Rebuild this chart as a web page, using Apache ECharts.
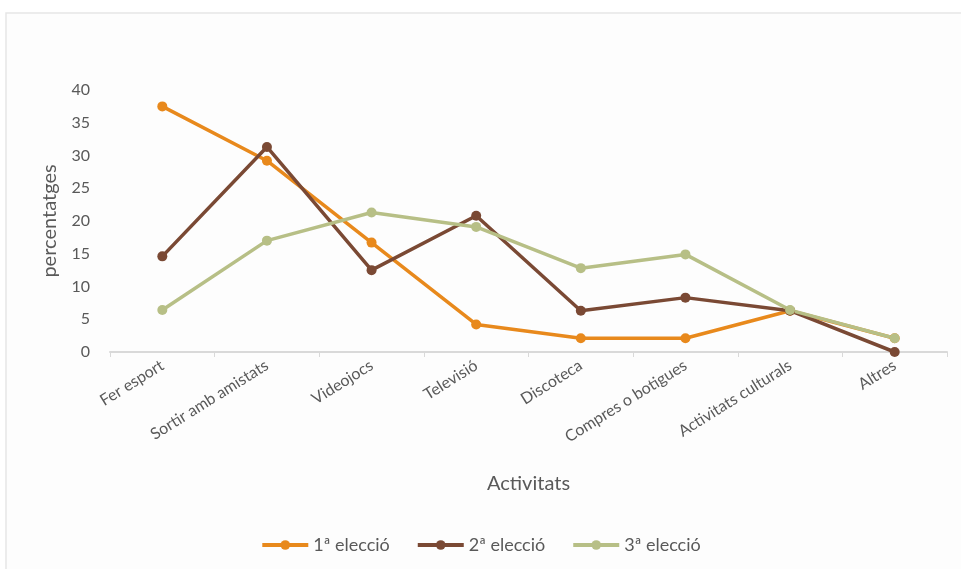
<!DOCTYPE html>
<html>
<head>
<meta charset="utf-8">
<script src="https://cdn.jsdelivr.net/npm/echarts@6/dist/echarts.min.js"></script>
<style>
  html, body { margin: 0; padding: 0; background: #ffffff; }
  #chart { width: 961px; height: 569px; }
</style>
</head>
<body>
<div id="chart"></div>
<script>
// Activities chosen as first, second and third option (percentages)
const categories = ['Fer esport', 'Sortir amb amistats', 'Videojocs', 'Televisió', 'Discoteca', 'Compres o botigues', 'Activitats culturals', 'Altres'];
const seriesNames = ['1ª elecció', '2ª elecció', '3ª elecció'];
const firstChoice = [37.5, 29.2, 16.7, 4.2, 2.1, 2.1, 6.3, 2.1];
const secondChoice = [14.6, 31.3, 12.5, 20.8, 6.3, 8.3, 6.3, 0];
const thirdChoice = [6.4, 17.0, 21.3, 19.1, 12.8, 14.9, 6.4, 2.1];
const yTicks = [0, 5, 10, 15, 20, 25, 30, 35, 40];

const colors = ['#E8891C', '#7A4934', '#B7BF86'];
const font = 'Lato, "Open Sans", sans-serif';

const chart = echarts.init(document.getElementById('chart'));

function lineSeries(name, data, color) {
  return {
    name: name,
    type: 'line',
    data: data,
    symbol: 'circle',
    symbolSize: 10,
    lineStyle: { width: 3.5, color: color },
    itemStyle: { color: color },
    emphasis: { disabled: true }
  };
}

chart.setOption({
  animation: false,
  backgroundColor: '#ffffff',
  graphic: [{
    type: 'rect',
    z: -10,
    shape: { x: 6, y: 13, width: 970, height: 570 },
    style: { fill: '#fdfdfd', stroke: '#e6e6e6', lineWidth: 1.5 }
  }],
  grid: { left: 110, right: 14, top: 90, bottom: 217 },
  legend: {
    bottom: 10,
    left: 'center',
    itemGap: 26,
    itemWidth: 46,
    itemHeight: 12,
    lineStyle: { width: 4 },
    textStyle: { color: '#595959', fontSize: 18, fontFamily: font },
    data: seriesNames
  },
  xAxis: {
    type: 'category',
    data: categories,
    boundaryGap: true,
    name: 'Activitats',
    nameLocation: 'middle',
    nameGap: 122,
    nameTextStyle: { color: '#595959', fontSize: 20, fontFamily: font },
    axisLine: { lineStyle: { color: '#d9d9d9', width: 2 } },
    axisTick: { show: true, length: 5, lineStyle: { color: '#d9d9d9' } },
    axisLabel: {
      rotate: 32,
      margin: 12,
      interval: 0,
      color: '#595959',
      fontSize: 16,
      fontFamily: font
    }
  },
  yAxis: {
    type: 'value',
    min: yTicks[0],
    max: yTicks[yTicks.length - 1],
    interval: 5,
    name: 'percentatges',
    nameLocation: 'middle',
    nameGap: 50,
    nameRotate: 90,
    nameTextStyle: { color: '#595959', fontSize: 20, fontFamily: font },
    axisLine: { show: false },
    axisTick: { show: false },
    splitLine: { show: false },
    axisLabel: { color: '#595959', fontSize: 16, fontFamily: font, margin: 20 }
  },
  series: [
    lineSeries(seriesNames[0], firstChoice, colors[0]),
    lineSeries(seriesNames[1], secondChoice, colors[1]),
    lineSeries(seriesNames[2], thirdChoice, colors[2])
  ]
});
</script>
</body>
</html>
